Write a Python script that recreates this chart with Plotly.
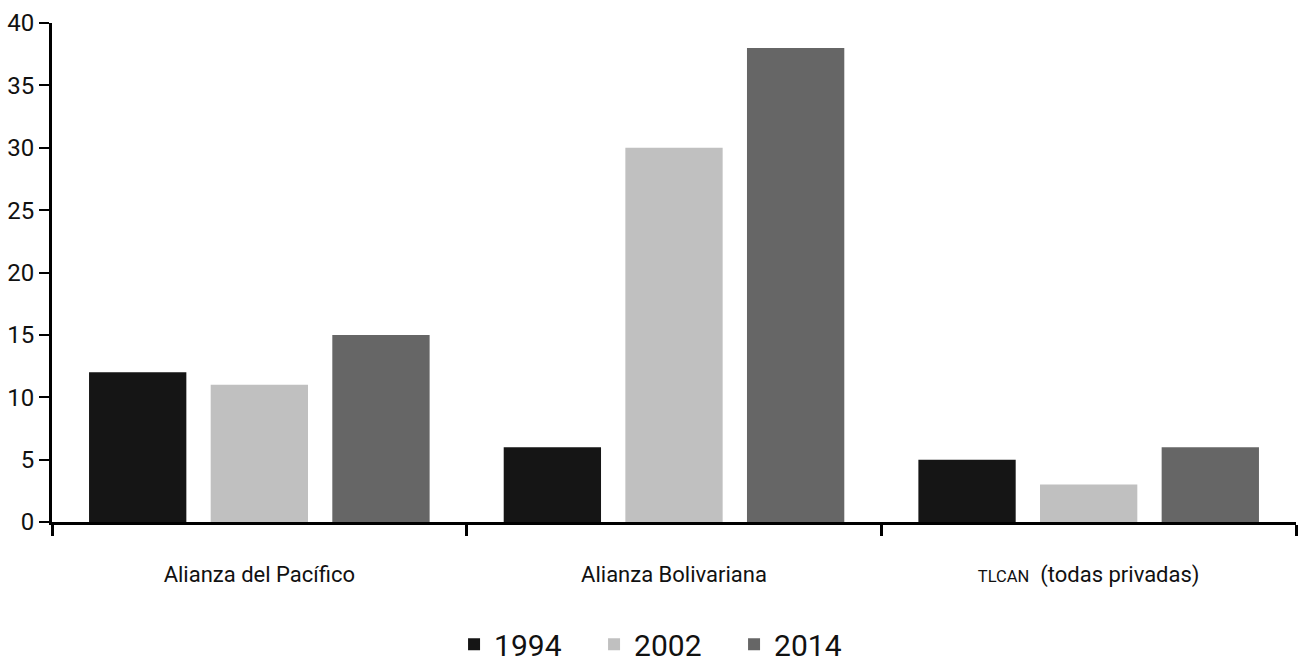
import plotly.graph_objects as go

categories = ["Alianza del Pacífico", "Alianza Bolivariana", "<span style='font-size:0.75em'>TLCAN</span>  (todas privadas)"]
years = ["1994", "2002", "2014"]
values_1994 = [12, 6, 5]
values_2002 = [11, 30, 3]
values_2014 = [15, 38, 6]
colors = ["#151515", "#c0c0c0", "#666666"]
y_ticks = [0, 5, 10, 15, 20, 25, 30, 35, 40]

FONT = "Roboto, Liberation Sans Narrow, sans-serif"

fig = go.Figure()
for name, vals, col in zip(years, [values_1994, values_2002, values_2014], colors):
    fig.add_trace(go.Bar(x=categories, y=vals, name=name, marker=dict(color=col, line=dict(width=0))))

fig.update_layout(
    width=1298, height=663,
    margin=dict(l=52, r=2, t=23, b=141, autoexpand=False),
    paper_bgcolor="white", plot_bgcolor="white",
    barmode="group", bargap=0.12, bargroupgap=0.2,
    font=dict(family=FONT, color="#111111"),
    showlegend=True,
    legend=dict(orientation="h", x=0.492, xanchor="center", xref="paper",
                y=-0.245, yanchor="middle", font=dict(size=30, family=FONT),
                itemwidth=30, entrywidth=95, traceorder="normal"),
)
fig.update_xaxes(
    showline=True, linecolor="black", linewidth=3,
    ticks="outside", tickson="boundaries", ticklen=11, tickwidth=3, tickcolor="black",
    tickfont=dict(size=22, family=FONT), range=[-0.5, 2.5],
    ticklabelstandoff=31, automargin=False,
    showgrid=False, zeroline=False,
)
fig.update_yaxes(
    range=[0, 40], tickvals=y_ticks, ticktext=[str(v) for v in y_ticks],
    showline=True, linecolor="black", linewidth=3,
    ticks="outside", ticklen=10, tickwidth=2, tickcolor="black",
    tickfont=dict(size=24, family=FONT), ticklabelstandoff=0, automargin=False,
    showgrid=False, zeroline=False,
)
fig.write_html("out.html", config={"displayModeBar": False},
               post_script="document.body.style.margin='0';")
